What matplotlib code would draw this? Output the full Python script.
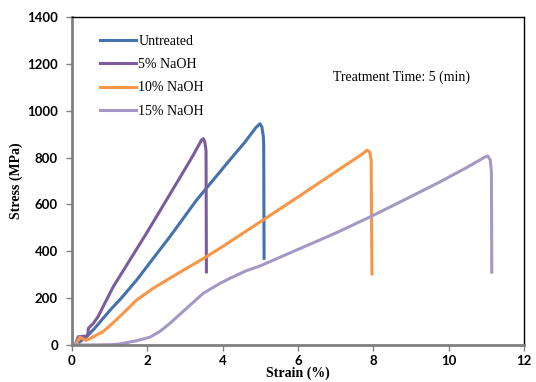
import matplotlib
matplotlib.use("Agg")
import matplotlib.pyplot as plt

# stress-strain curves
untreated_x = [0.0, 0.2, 0.39, 0.6, 0.83, 1.05, 1.27, 1.72, 2.16, 2.6, 3.31, 4.19, 4.6, 4.88, 4.99, 5.04, 5.08, 5.09, 5.1]
untreated_y = [0, 12, 35, 70, 114, 155, 192, 277, 370, 462, 619, 790, 868, 928, 945, 932, 890, 851, 370]

naoh5_x = [0.0, 0.1, 0.17, 0.39, 0.42, 0.44, 0.57, 0.7, 0.83, 1.1, 1.54, 1.98, 2.51, 2.86, 3.2, 3.44, 3.49, 3.53, 3.56, 3.57]
naoh5_y = [0, 5, 35, 38, 40, 71, 92, 122, 164, 249, 363, 477, 619, 713, 805, 875, 881, 865, 830, 312]

naoh10_x = [0.0, 0.12, 0.21, 0.28, 0.36, 0.45, 0.57, 0.83, 1.05, 1.27, 1.72, 2.16, 2.6, 3.04, 3.57, 3.93, 4.99, 6.0, 7.0, 7.7, 7.83, 7.9, 7.94, 7.96]
naoh10_y = [0, 7, 33, 28, 20, 24, 35, 57, 88, 121, 192, 242, 285, 327, 377, 413, 525, 632, 740, 815, 832, 825, 790, 303]

naoh15_x = [0.0, 0.5, 1.0, 1.27, 1.72, 2.07, 2.33, 2.6, 3.04, 3.48, 3.93, 4.2, 4.6, 5.0, 6.0, 7.0, 7.9, 8.7, 9.76, 10.5, 10.95, 11.03, 11.1, 11.13, 11.14]
naoh15_y = [0, 0, 1, 4, 18, 33, 57, 92, 156, 220, 263, 285, 315, 338, 408, 478, 546, 610, 696, 760, 802, 807, 790, 740, 311]

labels = ["Untreated", "5% NaOH", "10% NaOH", "15% NaOH"]
colors = ["#4472B0", "#7C5C9E", "#F79646", "#A698C6"]

fig = plt.figure(figsize=(5.36, 3.82), dpi=100)
ax = fig.add_axes([0.134, 0.097, 0.844, 0.858])

series = [(untreated_x, untreated_y), (naoh5_x, naoh5_y), (naoh10_x, naoh10_y), (naoh15_x, naoh15_y)]
for (xs, ys), lab, c in zip(series, labels, colors):
    ax.plot(xs, ys, color=c, lw=2.2, label=lab, solid_joinstyle="round")

ax.set_xlim(0, 12)
ax.set_ylim(0, 1400)
ax.set_xticks(range(0, 13, 2))
ax.set_yticks(range(0, 1401, 200))

for side in ["left", "bottom"]:
    ax.spines[side].set_color("#808080")
    ax.spines[side].set_linewidth(2)
for side in ["top", "right"]:
    ax.spines[side].set_color("black")
    ax.spines[side].set_linewidth(1)
ax.tick_params(axis="both", direction="out", length=4, color="#808080", width=1,
               labelsize=9.5)
ax.tick_params(axis="x", pad=3)
ax.tick_params(axis="y", pad=6)
for t in ax.get_xticklabels() + ax.get_yticklabels():
    t.set_fontfamily("Lato")
    t.set_fontweight("bold")

serif = "Liberation Serif"
ax.set_xlabel("Strain (%)", fontfamily=serif, fontweight="bold", fontsize=10, labelpad=0)
ax.set_ylabel("Stress (MPa)", fontfamily=serif, fontweight="bold", fontsize=10, labelpad=3)

ax.text(6.93, 1145, "Treatment Time: 5 (min)", fontfamily=serif, fontsize=10, va="center")

leg = ax.legend(loc="upper left", bbox_to_anchor=(0.035, 0.985), frameon=False,
                prop={"family": serif, "size": 10}, handlelength=2.6, handletextpad=0.15,
                labelspacing=0.75)

fig.savefig("out.png", dpi=100)
